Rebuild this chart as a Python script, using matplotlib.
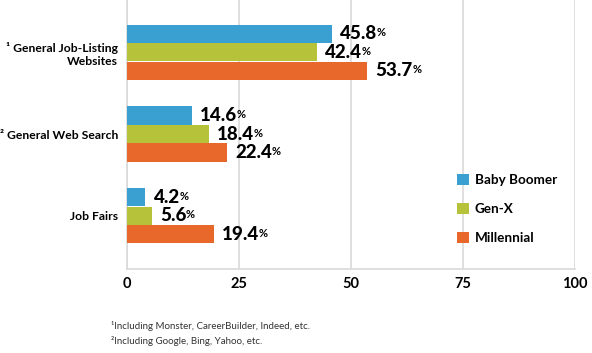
import matplotlib.pyplot as plt
import numpy as np

categories = ["\u00b9 General Job-Listing\nWebsites", "\u00b2 General Web Search", "Job Fairs"]
series = ["Baby Boomer", "Gen-X", "Millennial"]
baby_boomer = [45.8, 14.6, 4.2]
gen_x = [42.4, 18.4, 5.6]
millennial = [53.7, 22.4, 19.4]
colors = ["#3a9fd1", "#b6c33a", "#e8672a"]
footnotes = ["\u00b9Including Monster, CareerBuilder, Indeed, etc.",
             "\u00b2Including Google, Bing, Yahoo, etc."]

plt.rcParams["font.family"] = ["Lato", "DejaVu Sans"]

fig = plt.figure(figsize=(5.92, 3.53), dpi=100)
ax = fig.add_axes([126.5 / 592, 1 - 269 / 353, 448.5 / 592, 269 / 353])

y = np.arange(len(categories))
h = 0.227
for i, (vals, col, name) in enumerate(zip([baby_boomer, gen_x, millennial], colors, series)):
    pos = y + (i - 1) * h
    ax.barh(pos, vals, height=h * 0.98, color=col, label=name, zorder=3)
    for p, v in zip(pos, vals):
        t = ax.annotate(f"{v}", xy=(v, p), xytext=(6, 0), textcoords="offset points",
                        va="center", ha="left", fontsize=13.5, fontweight="black", color="black")
        ax.annotate("%", xy=(0.98, 0.88), xycoords=t, va="top", ha="left",
                    fontsize=8, fontweight="bold", color="black")

ax.set_xlim(0, 100)
ax.set_ylim(2.65, -0.638)
ax.set_xticks([0, 25, 50, 75, 100])
ax.set_yticks(y)
ax.set_yticklabels(categories, fontsize=8.7, fontweight="bold", linespacing=1.3)
ax.tick_params(axis="both", length=0, pad=6)
ax.tick_params(axis="x", labelsize=10.5, pad=6)
for lab in ax.get_xticklabels():
    lab.set_fontweight("bold")
ax.grid(axis="x", color="#d9d9d9", linewidth=1.2, zorder=0)
for s in ["top", "right"]:
    ax.spines[s].set_visible(False)
ax.spines["left"].set_color("#d9d9d9")
ax.spines["bottom"].set_color("#d9d9d9")
ax.spines["left"].set_linewidth(1.2)
ax.spines["bottom"].set_linewidth(1.2)

ax.legend(loc="upper left", bbox_to_anchor=(445 / 592, 1 - 162 / 353),
          bbox_transform=fig.transFigure, frameon=False, handlelength=0.85,
          handleheight=0.85, handletextpad=0.45, labelspacing=1.25,
          prop={"size": 9.7, "weight": "bold"})

fig.text(111 / 592, 1 - 326 / 353, footnotes[0], fontsize=7, color="#333333", va="center")
fig.text(111 / 592, 1 - 341 / 353, footnotes[1], fontsize=7, color="#333333", va="center")

fig.savefig("out.png", dpi=100)
